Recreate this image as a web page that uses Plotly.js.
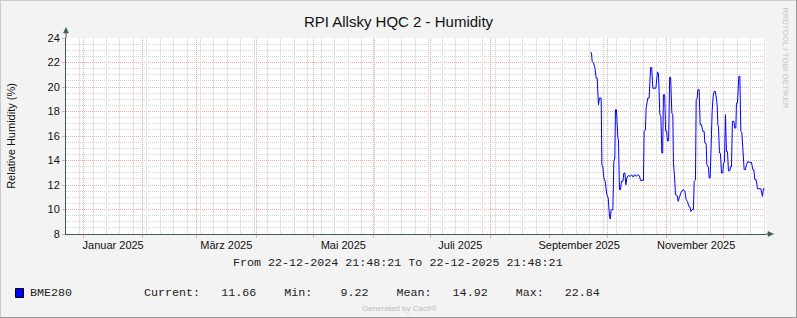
<!DOCTYPE html>
<html>
<head>
<meta charset="utf-8">
<script src="https://cdn.plot.ly/plotly-3.0.1.min.js"></script>
<style>
html,body{margin:0;padding:0;background:#F3F3F3;}
#chart{width:797px;height:318px;}
</style>
</head>
<body>
<div id="chart"></div>
<script>
const chartTitle = 'RPI Allsky HQC 2 - Humidity';
const yAxisTitle = 'Relative Humidity (%)';
const seriesName = 'BME280';
const rangeStart = '2024-12-22 21:48:21';
const rangeEnd = '2025-12-22 21:48:21';
const yRange = [8, 24];

const monthLabelDates = ['2025-01-16 12:00', '2025-03-16 12:00', '2025-05-16 12:00',
  '2025-07-16 12:00', '2025-09-16 12:00', '2025-11-16 12:00'];
const monthLabels = ['Januar 2025', 'März 2025', 'Mai 2025', 'Juli 2025', 'September 2025', 'November 2025'];

const times = [
  '2025-09-22 09:00','2025-09-22 22:00','2025-09-23 06:00','2025-09-23 23:00','2025-09-24 16:00',
  '2025-09-25 08:00','2025-09-25 21:00','2025-09-26 13:00','2025-09-27 02:00','2025-09-27 23:00',
  '2025-09-28 08:00','2025-09-28 20:00','2025-09-29 09:00','2025-09-30 01:00','2025-09-30 22:00',
  '2025-10-01 15:00','2025-10-02 07:00','2025-10-02 16:00','2025-10-03 04:00','2025-10-04 01:00',
  '2025-10-04 14:00','2025-10-05 02:00','2025-10-05 10:00','2025-10-05 22:00','2025-10-06 16:00',
  '2025-10-06 23:30','2025-10-07 12:00','2025-10-08 00:30','2025-10-08 13:00','2025-10-09 06:30',
  '2025-10-09 19:00','2025-10-10 07:30','2025-10-10 20:00','2025-10-11 08:30','2025-10-12 04:30',
  '2025-10-13 02:00','2025-10-13 21:00','2025-10-14 15:30','2025-10-15 10:00','2025-10-16 05:00',
  '2025-10-16 23:45','2025-10-17 22:00','2025-10-18 11:00','2025-10-20 00:00','2025-10-20 09:00',
  '2025-10-21 01:00','2025-10-21 10:00','2025-10-22 07:00','2025-10-22 23:30','2025-10-23 18:00',
  '2025-10-24 07:00','2025-10-24 22:00','2025-10-26 11:30','2025-10-27 07:30','2025-10-27 20:00',
  '2025-10-28 13:30','2025-10-29 02:00','2025-10-29 14:30','2025-10-30 00:30','2025-10-30 10:30',
  '2025-10-31 01:30','2025-10-31 14:00','2025-11-01 02:30','2025-11-01 12:30','2025-11-02 03:30',
  '2025-11-02 16:00','2025-11-03 04:30','2025-11-03 19:30','2025-11-04 08:00','2025-11-04 15:30',
  '2025-11-05 07:00','2025-11-05 17:00','2025-11-06 14:00','2025-11-07 02:30','2025-11-07 19:00',
  '2025-11-08 12:00','2025-11-09 13:30','2025-11-10 14:30','2025-11-11 06:30','2025-11-11 23:00',
  '2025-11-12 16:30','2025-11-13 08:30','2025-11-13 17:30','2025-11-14 09:30','2025-11-15 02:00',
  '2025-11-15 11:00','2025-11-16 03:00','2025-11-16 12:00','2025-11-17 00:15','2025-11-17 09:00',
  '2025-11-18 01:00','2025-11-18 14:00','2025-11-19 06:00','2025-11-19 23:30','2025-11-20 16:00',
  '2025-11-21 00:30','2025-11-21 17:00','2025-11-22 01:30','2025-11-22 21:30','2025-11-23 06:30',
  '2025-11-23 19:00','2025-11-24 11:00','2025-11-24 20:00','2025-11-25 08:30','2025-11-25 21:00',
  '2025-11-26 13:00','2025-11-27 02:00','2025-11-27 10:30','2025-11-27 19:30','2025-11-28 03:00',
  '2025-11-28 15:30','2025-11-29 04:00','2025-11-29 16:30','2025-11-30 10:00','2025-11-30 17:30',
  '2025-12-01 06:00','2025-12-01 18:30','2025-12-02 07:00','2025-12-02 19:30','2025-12-03 08:00',
  '2025-12-04 01:30','2025-12-04 09:00','2025-12-04 21:30','2025-12-05 10:00','2025-12-06 03:30',
  '2025-12-06 16:00','2025-12-07 04:30','2025-12-07 12:00','2025-12-08 00:30','2025-12-08 18:00',
  '2025-12-09 06:30','2025-12-09 19:00','2025-12-10 07:30','2025-12-10 20:00','2025-12-11 03:30',
  '2025-12-11 12:30','2025-12-12 04:30','2025-12-12 17:00','2025-12-13 11:00','2025-12-14 03:00',
  '2025-12-15 08:00','2025-12-16 01:00','2025-12-16 14:00','2025-12-17 02:30','2025-12-17 18:30',
  '2025-12-18 11:00','2025-12-20 05:30','2025-12-20 18:00','2025-12-21 01:30','2025-12-21 14:00',
  '2025-12-22 02:30'
];
const humidity = [
  22.84,22.80,22.09,21.96,21.60,
  20.73,20.73,18.55,19.10,19.10,
  13.66,13.50,12.57,12.30,11.20,
  10.94,9.44,9.22,9.98,9.98,
  13.93,14.20,18.15,18.15,15.84,
  15.70,11.62,11.62,12.30,12.30,
  12.98,12.98,12.02,12.57,12.78,
  12.70,12.84,12.65,12.84,12.70,
  12.84,12.75,12.38,12.38,16.38,
  16.50,18.28,19.10,19.10,21.60,
  21.60,19.90,19.90,21.22,21.14,
  17.74,17.60,14.61,14.61,19.37,
  19.37,16.40,16.40,15.60,15.60,
  20.79,20.79,17.88,17.74,13.80,
  12.50,11.20,11.15,10.66,11.00,
  11.35,11.62,11.50,10.80,10.66,
  10.25,10.20,9.84,10.00,10.00,
  12.30,12.40,18.96,19.10,19.78,
  19.78,16.92,16.92,16.38,16.38,
  15.43,15.38,13.66,13.45,12.57,
  12.57,18.00,18.05,19.24,19.64,
  19.64,18.55,18.55,16.92,16.78,
  14.61,14.58,12.98,12.98,13.80,
  13.85,17.74,14.74,14.74,13.16,
  13.16,13.50,13.50,17.20,17.20,
  16.65,16.65,18.69,18.69,20.87,
  20.87,16.38,16.30,14.47,14.47,
  13.25,13.25,13.66,13.93,13.85,
  13.85,13.25,13.25,12.43,12.43,
  11.70,11.70,11.07,11.07,11.70,
  11.66
];
const statCurrent = 11.66;
const statMin = 9.22;
const statMean = 14.92;
const statMax = 22.84;

// ---- layout helpers ----
const W = 797, H = 318;
const M = {l: 66, r: 31, t: 38, b: 84};
const PW = W - M.l - M.r, PH = H - M.t - M.b;
const px = x => (x - M.l) / PW;
const py = y => (H - M.b - y) / PH;

const sansFont = 'Liberation Sans, Arial, sans-serif';
const monoFont = 'Liberation Mono, Courier New, monospace';
const axisColor = '#3E5D57';
const majorGrid = '#F2A8A8';
const minorGrid = '#D6D6D6';
const weekGrid = '#E4E4E4';
const nb = s => s.replace(/ /g, '\u00A0');
const fmtStamp = s => { const [d, t] = s.split(' '); const [Y, Mo, D] = d.split('-'); return D + '-' + Mo + '-' + Y + ' ' + t; };
const f8 = v => v.toFixed(2).padStart(8, ' ');
const statsText = 'Current:' + f8(statCurrent) + '    Min:' + f8(statMin) + '    Mean:' + f8(statMean) + '    Max:' + f8(statMax);

const trace = {
  type: 'scatter', mode: 'lines', x: times, y: humidity, name: seriesName,
  xaxis: 'x', yaxis: 'y',
  line: {color: '#0000FF', width: 1}, hoverinfo: 'skip', showlegend: false
};
const weekCarrier = {
  type: 'scatter', mode: 'lines', x: [rangeStart, rangeEnd], y: [null, null],
  xaxis: 'x2', yaxis: 'y', hoverinfo: 'skip', showlegend: false
};
const labelCarrier = {
  type: 'scatter', mode: 'lines', x: [rangeStart, rangeEnd], y: [null, null],
  xaxis: 'x3', yaxis: 'y', hoverinfo: 'skip', showlegend: false
};

const layout = {
  width: W, height: H,
  margin: M,
  paper_bgcolor: '#F3F3F3', plot_bgcolor: '#FFFFFF',
  font: {family: sansFont, size: 11, color: '#111'},
  showlegend: false,
  title: {text: chartTitle, x: 0.5, xanchor: 'center', xref: 'container', y: 1 - 22 / H, yref: 'container', yanchor: 'middle',
    font: {family: sansFont, size: 15, color: '#111'}},
  xaxis: {
    type: 'date', range: [rangeStart, rangeEnd],
    tickmode: 'linear', tick0: '2025-01-01', dtick: 'M1', showticklabels: false,
    showgrid: true, gridcolor: majorGrid, griddash: '1px,1px',
    ticks: 'outside', ticklen: 3, tickcolor: majorGrid,
    showline: true, linecolor: axisColor, linewidth: 1, zeroline: false
  },
  xaxis2: {
    type: 'date', overlaying: 'x', anchor: 'y', range: [rangeStart, rangeEnd], tickmode: 'linear',
    tick0: '2024-12-23', dtick: 7 * 86400000, showgrid: true, gridcolor: weekGrid, showticklabels: false
  },
  xaxis3: {
    type: 'date', overlaying: 'x', anchor: 'y', range: [rangeStart, rangeEnd],
    tickmode: 'array', tickvals: monthLabelDates, ticktext: monthLabels,
    showgrid: false, zeroline: false, ticks: '', showline: false, ticklabelstandoff: 3,
    tickfont: {family: sansFont, size: 11, color: '#111'}
  },
  yaxis: {
    range: yRange, tickmode: 'linear', tick0: 8, dtick: 2,
    showgrid: true, gridcolor: majorGrid, griddash: '1px,1px',
    ticks: 'outside', ticklen: 3, tickcolor: majorGrid,
    minor: {dtick: 0.5, showgrid: true, gridcolor: minorGrid, griddash: '1px,1px'},
    showline: true, linecolor: axisColor, linewidth: 1, zeroline: false,
    tickfont: {family: sansFont, size: 11, color: '#111'},
    title: {text: yAxisTitle, font: {family: sansFont, size: 11, color: '#111'}, standoff: 29}
  },
  shapes: [
    {type: 'line', xref: 'paper', yref: 'paper', x0: 1, x1: px(770), y0: 0, y1: 0, line: {color: axisColor, width: 1}},
    {type: 'path', xref: 'paper', yref: 'paper',
      path: `M ${px(773.5)},${py(234)} L ${px(768)},${py(231.5)} L ${px(768)},${py(236.5)} Z`,
      fillcolor: axisColor, line: {color: axisColor, width: 0.5}},
    {type: 'line', xref: 'paper', yref: 'paper', x0: 0, x1: 0, y0: 1, y1: py(32), line: {color: axisColor, width: 1}},
    {type: 'path', xref: 'paper', yref: 'paper',
      path: `M ${px(66)},${py(27.5)} L ${px(63.5)},${py(33)} L ${px(68.5)},${py(33)} Z`,
      fillcolor: axisColor, line: {color: axisColor, width: 0.5}},
    {type: 'rect', xref: 'paper', yref: 'paper', x0: px(15.5), x1: px(23.5), y0: py(297.5), y1: py(288.5),
      fillcolor: '#0000FF', line: {color: '#000000', width: 1}},
    {type: 'line', xref: 'paper', yref: 'paper', x0: px(0.5), x1: px(0.5), y0: py(0), y1: py(318), line: {color: '#CBCBCB', width: 1}},
    {type: 'line', xref: 'paper', yref: 'paper', x0: px(0), x1: px(797), y0: py(0.5), y1: py(0.5), line: {color: '#CBCBCB', width: 1}},
    {type: 'line', xref: 'paper', yref: 'paper', x0: px(796.5), x1: px(796.5), y0: py(0), y1: py(318), line: {color: '#999999', width: 1}},
    {type: 'line', xref: 'paper', yref: 'paper', x0: px(0), x1: px(797), y0: py(317.5), y1: py(317.5), line: {color: '#999999', width: 1}}
  ],
  annotations: [
    {xref: 'paper', yref: 'paper', x: px(398), y: py(263), xanchor: 'center', yanchor: 'middle', showarrow: false,
      borderpad: 0, borderwidth: 0,
      text: nb('From ' + fmtStamp(rangeStart) + ' To ' + fmtStamp(rangeEnd)),
      font: {family: monoFont, size: 11.7, color: '#222'}},
    {xref: 'paper', yref: 'paper', x: px(30), y: py(292.5), xanchor: 'left', yanchor: 'middle', showarrow: false,
      borderpad: 0, borderwidth: 0, text: nb(seriesName), font: {family: monoFont, size: 11.7, color: '#222'}},
    {xref: 'paper', yref: 'paper', x: px(143.5), y: py(292.5), xanchor: 'left', yanchor: 'middle', showarrow: false,
      borderpad: 0, borderwidth: 0, text: nb(statsText), font: {family: monoFont, size: 11.7, color: '#222'}},
    {xref: 'paper', yref: 'paper', x: px(399), y: py(308), xanchor: 'center', yanchor: 'middle', showarrow: false,
      borderpad: 0, borderwidth: 0, text: 'Generated by Cacti®', font: {family: sansFont, size: 8, color: '#BDBDBD'}},
    {xref: 'paper', yref: 'paper', x: px(785), y: py(57.5), xanchor: 'center', yanchor: 'middle', showarrow: false,
      borderpad: 0, borderwidth: 0, textangle: 90, text: 'RRDTOOL / TOBI OETIKER', font: {family: sansFont, size: 8, color: '#C4C4C4'}}
  ]
};

Plotly.newPlot('chart', [trace, weekCarrier, labelCarrier], layout, {staticPlot: true, displayModeBar: false});
</script>
</body>
</html>
